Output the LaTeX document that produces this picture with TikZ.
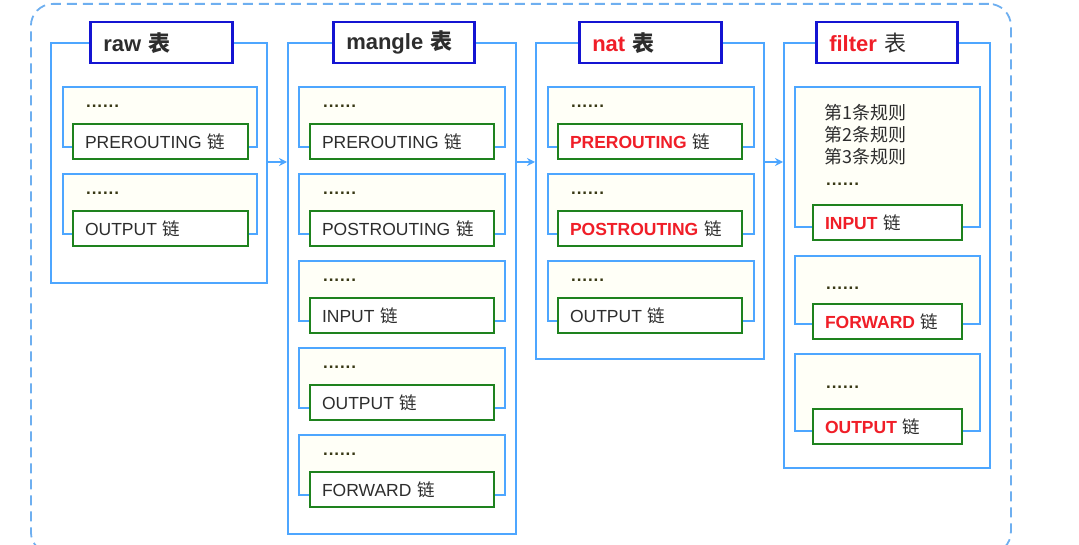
\documentclass[tikz,border=0pt]{standalone}
\usepackage{fontspec}
\setmainfont{Liberation Sans}
\newfontfamily\cjk{Noto Sans CJK SC}
\usetikzlibrary{arrows.meta}
\definecolor{lblue}{RGB}{77,166,255}
\definecolor{fblue}{RGB}{110,175,240}
\definecolor{dblue}{RGB}{20,20,210}
\definecolor{cgreen}{RGB}{30,130,30}
\definecolor{cred}{RGB}{240,30,40}
\definecolor{ctext}{RGB}{45,45,45}
\definecolor{cdots}{RGB}{55,55,20}
\definecolor{cream}{RGB}{255,255,247}
\newcommand\lian{{\cjk 链}}
\newcommand\biao{{\cjk 表}}
\newcommand\sixdots{.\kern0.9pt.\kern0.9pt.\kern0.9pt.\kern0.9pt.\kern0.9pt.}
\tikzset{
  frame/.style={draw=fblue, line width=1.8pt, dash pattern=on 10pt off 6pt, rounded corners=22pt, anchor=north west, inner sep=0pt},
  tbl/.style={draw=lblue, line width=2pt, anchor=north west, inner sep=0pt},
  ttl/.style={draw=dblue, line width=2.5pt, fill=white, anchor=north west, minimum height=41pt, inner xsep=13pt, inner ysep=0pt, align=left, text=ctext, font=\fontsize{22}{26}\selectfont\bfseries},
  grp/.style={draw=lblue, line width=2pt, fill=cream, anchor=north west, inner sep=0pt},
  chain/.style={draw=cgreen, line width=2pt, fill=white, anchor=north west, minimum height=35pt, inner xsep=12pt, inner ysep=0pt, align=left, text=ctext, font=\fontsize{17.5}{20}\selectfont},
  dotnode/.style={anchor=west, inner sep=0pt, text=cdots, font=\fontsize{17}{20}\selectfont\bfseries},
  rules/.style={anchor=north west, inner sep=0pt, align=left, text=ctext, font=\fontsize{18}{22}\selectfont},
  arr/.style={draw=lblue, line width=2pt, -{Stealth[length=8pt,width=8pt]}},
}
% #1 name, #2 group left, #3 group width, #4 top, #5 chain left, #6 chain width, #7 chain text width, #8 label
\newcommand\chaingroup[8]{%
  \node[grp, minimum width=#3pt, minimum height=60pt] (#1) at (#2,#4) {};
  \node[dotnode] (#1d) at (#5+14,#4+20) {\sixdots};
  \node[chain, minimum width=#6pt, text width=#7pt] (#1c) at (#5,#4+37) {#8};
}
\begin{document}
\begin{tikzpicture}[x=1pt,y=-1pt]
\useasboundingbox (0,0) rectangle (1079,545);
\node[frame, minimum width=980pt, minimum height=550pt] (frame) at (30,3) {};

% tables
\node[tbl, minimum width=216pt, minimum height=240pt] (raw) at (50,42) {};
\node[tbl, minimum width=228pt, minimum height=491pt] (mangle) at (287,42) {};
\node[tbl, minimum width=228pt, minimum height=316pt] (nat) at (535,42) {};
\node[tbl, minimum width=206pt, minimum height=425pt] (filter) at (783,42) {};

\node[ttl, minimum width=142pt, text width=116pt] (rawt) at (89,21) {raw \biao};
\node[ttl, minimum width=141pt, text width=115pt] (manglet) at (332,21) {mangle \biao};
\node[ttl, minimum width=142pt, text width=116pt] (natt) at (578,21) {{\color{cred}nat} \biao};
\node[ttl, minimum width=141pt, text width=115pt] (filtert) at (815,21) {{\color{cred}filter} {\mdseries\biao}};

% raw chains
\chaingroup{r1}{62}{194}{86}{72}{175}{151}{PREROUTING \lian}
\chaingroup{r2}{62}{194}{173}{72}{175}{151}{OUTPUT \lian}

% mangle chains
\chaingroup{m1}{298}{206}{86}{309}{184}{160}{PREROUTING \lian}
\chaingroup{m2}{298}{206}{173}{309}{184}{160}{POSTROUTING \lian}
\chaingroup{m3}{298}{206}{260}{309}{184}{160}{INPUT \lian}
\chaingroup{m4}{298}{206}{347}{309}{184}{160}{OUTPUT \lian}
\chaingroup{m5}{298}{206}{434}{309}{184}{160}{FORWARD \lian}

% nat chains
\chaingroup{n1}{547}{206}{86}{557}{184}{160}{{\bfseries\color{cred}PREROUTING} \lian}
\chaingroup{n2}{547}{206}{173}{557}{184}{160}{{\bfseries\color{cred}POSTROUTING} \lian}
\chaingroup{n3}{547}{206}{260}{557}{184}{160}{OUTPUT \lian}

% filter chains
\node[grp, minimum width=185pt, minimum height=140pt] (f1) at (794,86) {};
\node[rules] (f1r) at (824,104) {{\cjk 第1条规则}\\{\cjk 第2条规则}\\{\cjk 第3条规则}};
\node[dotnode] (f1d) at (826,184) {\sixdots};
\node[chain, minimum width=149pt, text width=125pt] (f1c) at (812,204) {{\bfseries\color{cred}INPUT} \lian};

\node[grp, minimum width=185pt, minimum height=68pt] (f2) at (794,255) {};
\node[dotnode] (f2d) at (826,288) {\sixdots};
\node[chain, minimum width=149pt, text width=125pt] (f2c) at (812,303) {{\bfseries\color{cred}FORWARD} \lian};

\node[grp, minimum width=185pt, minimum height=77pt] (f3) at (794,353) {};
\node[dotnode] (f3d) at (826,387) {\sixdots};
\node[chain, minimum width=149pt, text width=125pt] (f3c) at (812,408) {{\bfseries\color{cred}OUTPUT} \lian};

% arrows
\coordinate (ay) at (0,162);
\draw[arr] (raw.east |- ay) -- (mangle.west |- ay);
\draw[arr] (mangle.east |- ay) -- (nat.west |- ay);
\draw[arr] (nat.east |- ay) -- (filter.west |- ay);
\end{tikzpicture}
\end{document}
